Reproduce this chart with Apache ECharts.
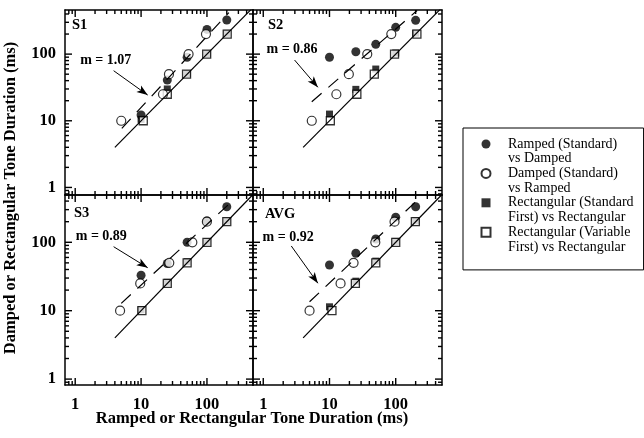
<!DOCTYPE html>
<html>
<head>
<meta charset="utf-8">
<script src="https://cdn.jsdelivr.net/npm/echarts@6/dist/echarts.min.js"></script>
<style>
  html, body { margin: 0; padding: 0; background: #fff; }
  #chart { width: 644px; height: 438px; }
</style>
</head>
<body>
<div id="chart"></div>
<script>
// standard durations (ms) used in every condition
var stdDur = [10, 25, 50, 100, 200];
var panelNames = ['S1', 'S2', 'S3', 'AVG'];
var slopes = ['1.07', '0.86', '0.89', '0.92'];

// Ramped (Standard) vs Damped : x = standard, y = matched damped duration
var rampedStdY = [
  [12.2, 40.8, 89.5, 235, 325],
  [89.6, 108.6, 140, 252, 321],
  [33, 49, 100, 205, 331],
  [46.6, 69, 111.7, 232, 331]
];
// Damped (Standard) vs Ramped : y = standard, x = matched ramped duration
var dampedStdX = [
  [5, 21.5, 26.5, 52.6, 96.6],
  [5.4, 12.7, 19.6, 37.2, 85.8],
  [4.8, 9.7, 26.8, 60, 99.7],
  [5.0, 14.7, 23.1, 49.2, 96]
];
// Rectangular (Standard First) vs Rectangular : x = standard
var rectStdFirstY = [
  [10.5, 30, 51, 102, 205],
  [12.6, 29.6, 59.7, 104, 206],
  [10.3, 26, 52, 102, 204],
  [11.4, 27, 53, 103, 205]
];
// Rectangular (Variable First) vs Rectangular : y = standard
var rectVarFirstX = [
  [10.8, 25, 49, 99, 203],
  [10.3, 25.9, 47.5, 96, 209],
  [10.3, 25, 50, 100, 200],
  [10.9, 24.6, 50, 100, 198]
];

// fitted power functions (dashed), read at both ends
var fitStart = [[5.1, 7.7], [5.4, 19.3], [5, 12.8], [5, 13.5]];
var fitEnd = [[215, 420], [210, 450], [215, 360], [205, 400]];
// equality line (solid)
var unityLine = [[4, 4], [500, 500]];

// tick values
var majorTicks = [1, 10, 100];
var minorTicks = [0.8, 0.9, 2, 3, 4, 5, 6, 7, 8, 9, 20, 30, 40, 50, 60, 70, 80, 90, 200, 300, 400];

var seriesNames = [
  'Ramped (Standard) vs Damped',
  'Damped (Standard) vs Ramped',
  'Rectangular (Standard First) vs Rectangular',
  'Rectangular (Variable First) vs Rectangular'
];
// leading empty line puts the first text line level with the icon
var legendLines = [
  '\nRamped (Standard)\nvs Damped',
  '\nDamped (Standard)\nvs Ramped',
  '\nRectangular (Standard\nFirst) vs Rectangular',
  '\nRectangular (Variable\nFirst) vs Rectangular'
];

// annotation placement (data space of each panel)
var labelPos = [[2.91, 81.5], [2.72, 119], [2.49, 123.7], [2.37, 119.5]];
var arrowFrom = [[3.83, 56.4], [2.97, 81.5], [3.83, 86.2], [2.65, 88.3]];
var arrowTo = [[12.6, 24.3], [6.68, 31.8], [12.6, 42.5], [6.68, 25.2]];

var serif = 'Liberation Serif';

var grids = [
  { left: 65, top: 10, width: 188, height: 185 },
  { left: 253, top: 10, width: 189, height: 185 },
  { left: 65, top: 195, width: 188, height: 190 },
  { left: 253, top: 195, width: 189, height: 190 }
];
var xRange = [0.7, 500];
var yRange = [[0.77, 459], [0.77, 459], [0.82, 491], [0.82, 491]];

// log axis: frame line + decade labels (ticks added after layout)
function mainAxis(dim, g, pos, showLabel) {
  var r = dim === 'x' ? xRange : yRange[g];
  return {
    type: 'log', logBase: 10, gridIndex: g, position: pos,
    min: r[0], max: r[1],
    axisLine: { show: true, onZero: false, lineStyle: { color: '#000', width: 1.5 } },
    axisTick: { show: false },
    axisLabel: {
      show: showLabel,
      margin: dim === 'x' ? 11 : 9,
      fontFamily: serif, fontWeight: 'bold', fontSize: 16.5, color: '#000',
      formatter: function (v) { return majorTicks.indexOf(v) >= 0 ? String(v) : ''; }
    },
    splitLine: { show: false },
    minorTick: { show: false }
  };
}

var xAxes = [], yAxes = [];
for (var g = 0; g < 4; g++) {
  xAxes.push(mainAxis('x', g, 'bottom', g >= 2));
  xAxes.push(mainAxis('x', g, 'top', false));
  yAxes.push(mainAxis('y', g, 'left', g % 2 === 0));
  yAxes.push(mainAxis('y', g, 'right', false));
}

var series = [];
for (var g = 0; g < 4; g++) {
  var xi = g * 2, yi = g * 2;
  series.push({
    name: seriesNames[2], type: 'scatter', xAxisIndex: xi, yAxisIndex: yi,
    symbol: 'rect', symbolSize: 7, z: 2,
    itemStyle: { color: '#000' },
    data: stdDur.map(function (x, i) { return [x, rectStdFirstY[g][i]]; })
  });
  series.push({
    name: seriesNames[3], type: 'scatter', xAxisIndex: xi, yAxisIndex: yi,
    symbol: 'rect', symbolSize: 8, z: 3,
    itemStyle: { color: '#fff', borderColor: '#000', borderWidth: 1.3 },
    data: stdDur.map(function (y, i) { return [rectVarFirstX[g][i], y]; })
  });
  series.push({
    name: seriesNames[0], type: 'scatter', xAxisIndex: xi, yAxisIndex: yi,
    symbol: 'circle', symbolSize: 9, z: 2,
    itemStyle: { color: '#000' },
    data: stdDur.map(function (x, i) { return [x, rampedStdY[g][i]]; })
  });
  series.push({
    name: seriesNames[1], type: 'scatter', xAxisIndex: xi, yAxisIndex: yi,
    symbol: 'circle', symbolSize: 9, z: 3,
    itemStyle: { color: '#fff', borderColor: '#000', borderWidth: 1.2 },
    data: stdDur.map(function (y, i) { return [dampedStdX[g][i], y]; })
  });
  // equality line
  series.push({
    name: 'unity', type: 'line', xAxisIndex: xi, yAxisIndex: yi,
    data: unityLine, symbol: 'none', z: 5, silent: true,
    lineStyle: { color: '#000', width: 1.2 }
  });
  // fitted line + slope annotation
  series.push({
    name: 'fit', type: 'line', xAxisIndex: xi, yAxisIndex: yi,
    data: [fitStart[g], fitEnd[g]], symbol: 'none', z: 5, silent: true,
    lineStyle: { color: '#000', width: 1.2, type: [13, 9] },
    markLine: {
      silent: true,
      symbol: ['none', 'arrow'],
      symbolSize: [6, 11],
      label: { show: false },
      lineStyle: { color: '#000', width: 1, type: 'solid' },
      data: [[{ coord: arrowFrom[g] }, { coord: arrowTo[g] }]]
    },
    markPoint: {
      silent: true,
      symbol: 'circle',
      symbolSize: 1,
      itemStyle: { color: 'rgba(0,0,0,0)' },
      label: {
        show: true, position: 'inside',
        formatter: 'm = ' + slopes[g],
        fontFamily: serif, fontWeight: 'bold', fontSize: 14, color: '#000'
      },
      data: [{ coord: labelPos[g] }]
    }
  });
}

var panelLabelPos = [[72, 25], [268, 25], [74, 213], [265, 214]];
var graphics = panelNames.map(function (n, i) {
  return {
    type: 'text', x: panelLabelPos[i][0], y: panelLabelPos[i][1],
    style: {
      text: n, font: 'bold 14.5px "Liberation Serif"', fill: '#000',
      align: 'left', verticalAlign: 'middle'
    }
  };
});
graphics.push({
  type: 'text', x: 252, y: 419,
  style: {
    text: 'Ramped or Rectangular Tone Duration (ms)',
    font: 'bold 16.5px "Liberation Serif"', fill: '#000',
    align: 'center', verticalAlign: 'middle'
  }
});
graphics.push({
  type: 'text', x: 11, y: 198, rotation: Math.PI / 2,
  style: {
    text: 'Damped or Rectangular Tone Duration (ms)',
    font: 'bold 16.5px "Liberation Serif"', fill: '#000',
    align: 'center', verticalAlign: 'middle'
  }
});

var option = {
  animation: false,
  backgroundColor: '#fff',
  grid: grids,
  xAxis: xAxes,
  yAxis: yAxes,
  legend: {
    orient: 'vertical',
    left: 463,
    top: 128,
    data: seriesNames,
    selectedMode: false,
    itemWidth: 9,
    itemHeight: 9,
    itemGap: -15,
    padding: [-6.2, 10, 15.5, 17.5],
    borderColor: '#000',
    borderWidth: 1,
    formatter: function (name) { return legendLines[seriesNames.indexOf(name)]; },
    textStyle: {
      fontFamily: serif, fontSize: 14, color: '#000',
      lineHeight: 14.8, padding: [0, 0, 0, 12.5]
    }
  },
  graphic: { elements: graphics },
  series: series
};

var myChart = echarts.init(document.getElementById('chart'));
myChart.setOption(option);

// inward log ticks on all four sides of each panel, positioned through the panel axes
function tickLine(x1, y1, x2, y2) {
  return {
    type: 'line', silent: true, z: 50,
    shape: { x1: x1, y1: y1, x2: x2, y2: y2 },
    style: { stroke: '#000', lineWidth: 1.4 }
  };
}
var tickEls = [];
grids.forEach(function (gr, g) {
  var finder = { xAxisIndex: g * 2, yAxisIndex: g * 2 };
  var x0 = gr.left, x1 = gr.left + gr.width, y0 = gr.top, y1 = gr.top + gr.height;
  [[majorTicks, 7], [minorTicks, 4]].forEach(function (set) {
    var len = set[1];
    set[0].forEach(function (v) {
      var px = myChart.convertToPixel(finder, [v, 1])[0];
      if (px > x0 + 1 && px < x1 - 1) {
        tickEls.push(tickLine(px, y1, px, y1 - len));
        tickEls.push(tickLine(px, y0, px, y0 + len));
      }
      var py = myChart.convertToPixel(finder, [1, v])[1];
      if (py > y0 + 1 && py < y1 - 1) {
        tickEls.push(tickLine(x0, py, x0 + len, py));
        tickEls.push(tickLine(x1, py, x1 - len, py));
      }
    });
  });
});
myChart.setOption({ graphic: { elements: graphics.concat(tickEls) } });
</script>
</body>
</html>
